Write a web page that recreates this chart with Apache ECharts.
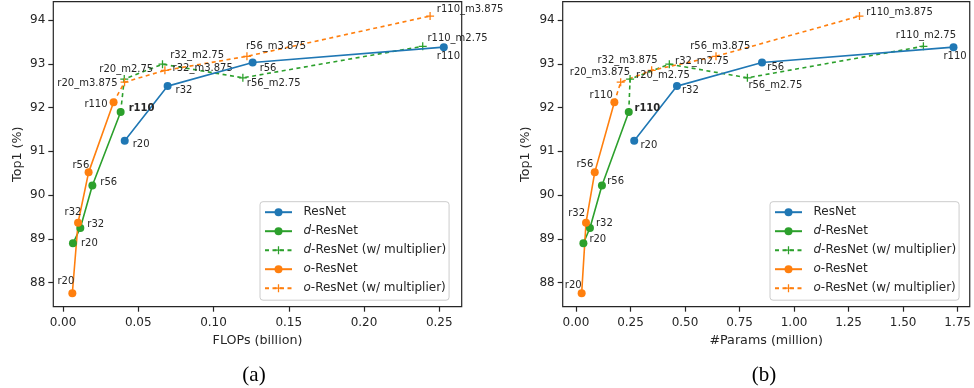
<!DOCTYPE html>
<html>
<head>
<meta charset="utf-8">
<script src="https://cdn.jsdelivr.net/npm/echarts@6/dist/echarts.min.js"></script>
<style>
html,body{margin:0;padding:0;background:#fff;}
#c{width:974px;height:388px;}
</style>
</head>
<body>
<div id="c"></div>
<script>
// ---- data ----
var seriesNames = ['ResNet', 'd-ResNet', 'd-ResNet (w/ multiplier)', 'o-ResNet', 'o-ResNet (w/ multiplier)'];
var baseLabels = ['r20', 'r32', 'r56', 'r110'];
var dMultLabels = ['r20_m2.75', 'r32_m2.75', 'r56_m2.75', 'r110_m2.75'];
var oMultLabels = ['r20_m3.875', 'r32_m3.875', 'r56_m3.875', 'r110_m3.875'];

var resnetTop1 = [91.24, 92.49, 93.03, 93.38];
var dTop1 = [88.90, 89.25, 90.22, 91.90];
var dMultTop1 = [92.65, 92.99, 92.68, 93.40];
var oTop1 = [87.76, 89.37, 90.52, 92.12];
var oMultTop1 = [92.58, 92.85, 93.17, 94.09];

var resnetFlops = [0.041, 0.0695, 0.126, 0.253];
var dFlops = [0.0066, 0.0115, 0.0195, 0.0383];
var dMultFlops = [0.0407, 0.0661, 0.1195, 0.239];
var oFlops = [0.0062, 0.0100, 0.0170, 0.0336];
var oMultFlops = [0.0409, 0.0677, 0.1222, 0.2439];

var resnetParams = [0.267, 0.463, 0.853, 1.731];
var dParams = [0.034, 0.064, 0.119, 0.242];
var dMultParams = [0.248, 0.428, 0.786, 1.593];
var oParams = [0.026, 0.046, 0.086, 0.176];
var oMultParams = [0.205, 0.347, 0.642, 1.30];

var flopsTicks = [0, 0.05, 0.10, 0.15, 0.20, 0.25];
var paramsTicks = [0, 0.25, 0.5, 0.75, 1.0, 1.25, 1.5, 1.75];
var top1Ticks = [88, 89, 90, 91, 92, 93, 94];

// ---- label placement (align, dx, dy) ----
var placeA = {
  res: [['left', 8, 4], ['left', 8, 4], ['left', 7, 5.5], ['left', -7, 9.5]],
  d:   [['left', 8, 0], ['left', 7, -3.7], ['left', 8, -3.4], ['left', 8, -3.7]],
  dM:  [['center', 2, -10], ['left', 7.7, -8.7], ['left', 4, 6], ['left', 4.7, -7.6]],
  o:   [['right', 2, -12], ['right', 3.3, -10], ['right', 0.7, -7.3], ['right', -6, 1.7]],
  oM:  [['right', -7, 1.3], ['left', 7.7, -2], ['left', -1, -9.7], ['left', 6.7, -6.7]]
};
var placeB = {
  res: [['left', 6.3, 4.3], ['left', 5, 4.4], ['left', 5.3, 5], ['left', -10, 9.7]],
  d:   [['left', 6, -4], ['left', 6, -4.4], ['left', 5.3, -4.4], ['left', 5.7, -3.7]],
  dM:  [['left', 6, -3.4], ['left', 5.7, -3.3], ['left', 1, 7.3], ['center', 2.5, -11.3]],
  o:   [['right', 0, -8.3], ['right', -1, -9.4], ['right', -1.4, -7.7], ['right', -1.6, -7.3]],
  oM:  [['right', 9.3, -10], ['right', 6, -9.7], ['center', 4.3, -10.3], ['left', 6.7, -3.4]]
};

var FONT = 'DejaVu Sans';
var TXT = '#262626';
var BLUE = '#1f77b4', GREEN = '#2ca02c', ORANGE = '#ff7f0e';
var PLUS = 'path://M4.2,0H5.8V4.2H10V5.8H5.8V10H4.2V5.8H0V4.2H4.2Z';

function pts(xs, ys, names, place, boldIdx) {
  return xs.map(function (x, i) {
    return {
      value: [x, ys[i]],
      label: {
        show: true, formatter: names[i], position: 'inside',
        offset: [place[i][1], place[i][2]], align: place[i][0], verticalAlign: 'middle',
        fontFamily: FONT, fontSize: 10, color: TXT,
        fontWeight: (boldIdx === i) ? 'bold' : 'normal'
      }
    };
  });
}
function withStart(x0, y0, arr) {
  return [{ value: [x0, y0], symbol: 'none', label: { show: false } }].concat(arr);
}

function seriesFor(g, xsR, xsD, xsDM, xsO, xsOM, place) {
  var common = { xAxisIndex: g, yAxisIndex: g, silent: true, animation: false, emphasis: { disabled: true } };
  return [
    Object.assign({ type: 'line', name: seriesNames[0], z: 3, symbol: 'circle', symbolSize: 8,
      lineStyle: { color: BLUE, width: 1.6 }, itemStyle: { color: BLUE },
      data: pts(xsR, resnetTop1, baseLabels, place.res) }, common),
    Object.assign({ type: 'line', name: seriesNames[1], z: 3, symbol: 'circle', symbolSize: 8,
      lineStyle: { color: GREEN, width: 1.6 }, itemStyle: { color: GREEN },
      data: pts(xsD, dTop1, baseLabels, place.d, 3) }, common),
    Object.assign({ type: 'line', name: seriesNames[2], z: 2, symbol: PLUS, symbolSize: 8,
      lineStyle: { color: GREEN, width: 1.6, type: [4, 3.5] }, itemStyle: { color: GREEN },
      data: withStart(xsD[3], dTop1[3], pts(xsDM, dMultTop1, dMultLabels, place.dM)) }, common),
    Object.assign({ type: 'line', name: seriesNames[3], z: 3, symbol: 'circle', symbolSize: 8,
      lineStyle: { color: ORANGE, width: 1.6 }, itemStyle: { color: ORANGE },
      data: pts(xsO, oTop1, baseLabels, place.o) }, common),
    Object.assign({ type: 'line', name: seriesNames[4], z: 2, symbol: PLUS, symbolSize: 8,
      lineStyle: { color: ORANGE, width: 1.6, type: [4, 3.5] }, itemStyle: { color: ORANGE },
      data: withStart(xsO[3], oTop1[3], pts(xsOM, oMultTop1, oMultLabels, place.oM)) }, common)
  ];
}

function xAxis(g, min, max, ticks, name) {
  return {
    type: 'value', gridIndex: g, min: min, max: max,
    name: name, nameLocation: 'middle', nameGap: 27, nameMoveOverlap: false,
    nameTextStyle: { fontFamily: FONT, fontSize: 12.7, color: TXT },
    axisLine: { show: false, onZero: false }, splitLine: { show: false },
    axisTick: { show: true, length: 5, customValues: ticks, lineStyle: { color: TXT, width: 1.2 } },
    axisLabel: { customValues: ticks, margin: 10, fontFamily: FONT, fontSize: 12, color: TXT,
      formatter: function (v) { return v.toFixed(2); } }
  };
}
function yAxis(g, nameGap) {
  return {
    type: 'value', gridIndex: g, min: 87.452, max: 94.418,
    name: 'Top1 (%)', nameLocation: 'middle', nameGap: nameGap, nameMoveOverlap: false,
    nameTextStyle: { fontFamily: FONT, fontSize: 12.7, color: TXT },
    axisLine: { show: false, onZero: false }, splitLine: { show: false },
    axisTick: { show: true, length: 5, customValues: top1Ticks, lineStyle: { color: TXT, width: 1.2 } },
    axisLabel: { customValues: top1Ticks, margin: 8, fontFamily: FONT, fontSize: 12, color: TXT,
      formatter: function (v) { return String(Math.round(v)); } }
  };
}
function legend(left) {
  return {
    orient: 'vertical', left: left, top: 201.7,
    data: seriesNames, selectedMode: false,
    itemWidth: 27, itemHeight: 10, itemGap: 5,
    padding: [3.5, 3, 5, 4],
    backgroundColor: 'rgba(255,255,255,0.85)', borderColor: '#cccccc', borderWidth: 1, borderRadius: 3,
    textStyle: { fontFamily: FONT, fontSize: 12, color: TXT, lineHeight: 14, padding: [0, 0, 0, 6.5],
      rich: { i: { fontFamily: FONT, fontSize: 12, fontStyle: 'italic', color: TXT, lineHeight: 14 } } },
    formatter: function (n) { return n.replace(/^([do])-/, '{i|$1}-'); }
  };
}

var chart = echarts.init(document.getElementById('c'), null, { renderer: 'canvas' });
chart.setOption({
  animation: false,
  backgroundColor: '#ffffff',
  grid: [
    { left: 53.3, top: 1.7, width: 408.4, height: 305, show: true, borderColor: TXT, borderWidth: 1.2, backgroundColor: 'transparent' },
    { left: 562.7, top: 1.7, width: 407.8, height: 305, show: true, borderColor: TXT, borderWidth: 1.2, backgroundColor: 'transparent' }
  ],
  xAxis: [
    xAxis(0, -0.00645, 0.2649, flopsTicks, 'FLOPs (billion)'),
    xAxis(1, -0.0609, 1.8055, paramsTicks, '#Params (million)')
  ],
  yAxis: [yAxis(0, 29), yAxis(1, 31)],
  legend: [legend(260), legend(770)],
  series: seriesFor(0, resnetFlops, dFlops, dMultFlops, oFlops, oMultFlops, placeA)
    .concat(seriesFor(1, resnetParams, dParams, dMultParams, oParams, oMultParams, placeB)),
  graphic: [
    { type: 'text', x: 254, y: 375, style: { text: '(a)', font: '21px "Liberation Serif"', fill: '#000', textAlign: 'center', textVerticalAlign: 'middle' } },
    { type: 'text', x: 764, y: 375, style: { text: '(b)', font: '21px "Liberation Serif"', fill: '#000', textAlign: 'center', textVerticalAlign: 'middle' } }
  ]
});
</script>
</body>
</html>
